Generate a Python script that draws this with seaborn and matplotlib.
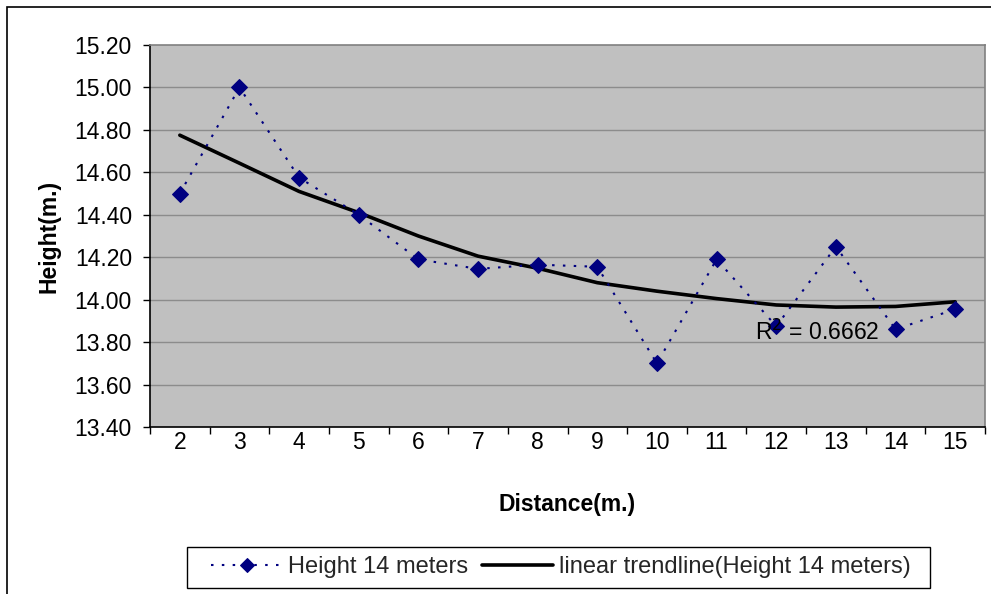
import matplotlib
matplotlib.use("Agg")
import matplotlib.pyplot as plt
import seaborn as sns
import pandas as pd
from matplotlib.ticker import FixedLocator, FuncFormatter
from matplotlib.patches import Rectangle

distance = [2, 3, 4, 5, 6, 7, 8, 9, 10, 11, 12, 13, 14, 15]
height = [14.50, 15.00, 14.575, 14.40, 14.19, 14.145, 14.165, 14.155,
          13.70, 14.19, 13.875, 14.25, 13.86, 13.955]
trend = [14.775, 14.643, 14.51, 14.41, 14.30, 14.205, 14.148, 14.08,
         14.04, 14.005, 13.975, 13.965, 13.968, 13.99]
y_ticks = [13.40, 13.60, 13.80, 14.00, 14.20, 14.40, 14.60, 14.80, 15.00, 15.20]

df = pd.DataFrame({"Distance": distance, "Height": height, "Trend": trend})

sns.set_theme(style="white")
plt.rcParams['font.family'] = ['Liberation Sans', 'DejaVu Sans']

FS = 16.5

fig = plt.figure(figsize=(9.91, 5.94), dpi=100)
fig.patch.set_facecolor("white")
ax = fig.add_axes([150/991, 1 - 427/594, 835/991, 382/594])
ax.set_facecolor("#C0C0C0")

# figure border
fig.patches.append(Rectangle((7/991, -0.05), 2, 1.05 - 7/594, transform=fig.transFigure,
                             fill=False, edgecolor="black", linewidth=1.2, zorder=0))
# legend frame
fig.patches.append(Rectangle((187/991, 1 - 588/594), (930 - 187)/991, 41/594,
                             transform=fig.transFigure, fill=False, edgecolor="black",
                             linewidth=1.0, zorder=1))

for yv in y_ticks[1:-1]:
    ax.axhline(yv, color="#8C8C8C", linewidth=1.0, zorder=0)

sns.lineplot(data=df, x="Distance", y="Height", ax=ax, color="#000080",
             linestyle=(0, (1.2, 4)), linewidth=1.5, marker="D", markersize=8,
             markeredgecolor="#000080", markerfacecolor="#000080",
             label="Height 14 meters", zorder=3)
sns.lineplot(data=df, x="Distance", y="Trend", ax=ax, color="black",
             linewidth=2.6, label="linear trendline(Height 14 meters)", zorder=2)

ax.set_xlim(1.5, 15.5)
ax.set_ylim(13.40, 15.20)
ax.set_yticks(y_ticks)
ax.yaxis.set_major_formatter(FuncFormatter(lambda v, p: f"{v:.2f}"))
ax.set_xticks(distance)
ax.set_xticklabels([str(d) for d in distance])
ax.xaxis.set_minor_locator(FixedLocator([d + 0.5 for d in [1] + distance]))
ax.tick_params(axis="x", which="major", length=0, pad=3, labelsize=FS, colors="black")
ax.tick_params(axis="x", which="minor", length=5, width=1, color="black", direction="out", bottom=True)
ax.tick_params(axis="y", which="major", length=5, width=1, color="black", direction="out",
               left=True, pad=8, labelsize=FS, labelcolor="black")

for side in ["left", "bottom"]:
    ax.spines[side].set_color("black")
    ax.spines[side].set_linewidth(1.2)
for side in ["right", "top"]:
    ax.spines[side].set_color("#808080")
    ax.spines[side].set_linewidth(1.2)

ax.set_xlabel("Distance(m.)", fontsize=FS, fontweight="bold", labelpad=28, color="black")
ax.set_ylabel("Height(m.)", fontsize=FS, fontweight="bold", labelpad=10, color="black")

ax.text(11.64, 13.845, "R$^2$ = 0.6662", fontsize=FS, color="black", ha="left", va="center", zorder=4)

leg = ax.legend(loc="center", bbox_to_anchor=(561/991, 1 - 567.5/594), bbox_transform=fig.transFigure,
                ncol=2, frameon=False, fontsize=17, handlelength=3.0,
                columnspacing=0.6, handletextpad=0.25, borderpad=0.35, borderaxespad=0)
for h in leg.legend_handles:
    try:
        h.set_markersize(7)
    except Exception:
        pass

fig.savefig("out.png", dpi=100)
